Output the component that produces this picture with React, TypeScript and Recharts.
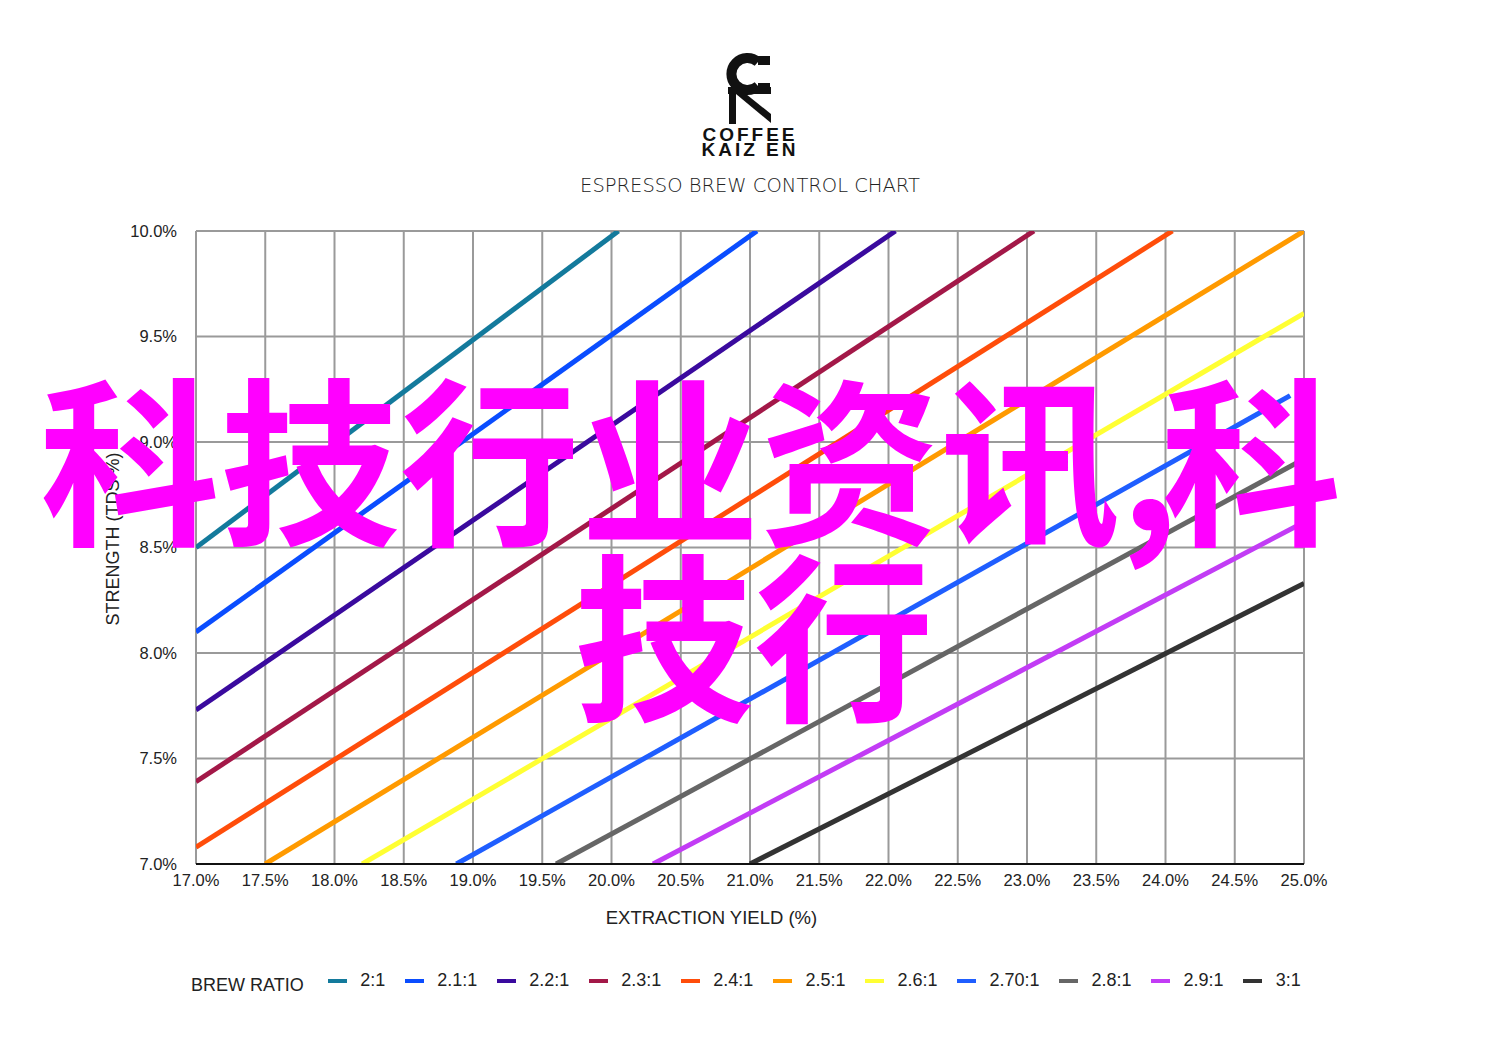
import { CartesianGrid, Line, LineChart, XAxis, YAxis } from "recharts";

const X_TICKS = [17, 17.5, 18, 18.5, 19, 19.5, 20, 20.5, 21, 21.5, 22, 22.5, 23, 23.5, 24, 24.5, 25];
const Y_TICKS = [7, 7.5, 8, 8.5, 9, 9.5, 10];

const RATIOS = ["2:1", "2.1:1", "2.2:1", "2.3:1", "2.4:1", "2.5:1", "2.6:1", "2.70:1", "2.8:1", "2.9:1", "3:1"];
const COLORS = ["#137a9c", "#0a4dff", "#3a0a9e", "#a31848", "#ff4d0a", "#ff9a00", "#ffff33", "#1f5eff", "#666666", "#c23cf5", "#333333"];

// endpoints
const START_X = [17, 17, 17, 17, 17, 17.5, 18.2, 18.88, 19.6, 20.3, 21.0];
const START_Y = [8.5, 8.1, 7.73, 7.39, 7.08, 7.0, 7.0, 7.0, 7.0, 7.0, 7.0];
const END_X = [20.05, 21.05, 22.05, 23.05, 24.05, 25, 25, 24.9, 25, 25, 25];
const END_Y = [10, 10, 10, 10, 10, 10, 9.61, 9.22, 8.92, 8.62, 8.33];

const series = RATIOS.map((name, i) => ({
  name,
  color: COLORS[i],
  data: [
    { x: START_X[i], y: START_Y[i] },
    { x: END_X[i], y: END_Y[i] },
  ],
}));

const FONT = "'Liberation Sans', Arial, sans-serif";
const CJK = "'Noto Sans CJK SC', sans-serif";

function BrewLegend() {
  return (
    <div
      style={{
        position: "absolute",
        left: 191,
        top: 970,
        display: "flex",
        alignItems: "center",
        fontFamily: FONT,
        fontSize: 18,
        color: "#222",
      }}
    >
      <span style={{ marginRight: 24, position: "relative", top: 5 }}>BREW RATIO</span>
      {series.map((s) => (
        <span key={s.name} style={{ display: "flex", alignItems: "center", marginRight: 19.5 }}>
          <span style={{ width: 19, height: 4, background: s.color, marginRight: 13.5 }} />
          {s.name}
        </span>
      ))}
    </div>
  );
}

function Logo() {
  return (
    <svg width={60} height={80} viewBox="0 0 60 80" style={{ position: "absolute", left: 720, top: 50 }}>
      <path d="M38 12 A16 16 0 1 0 38 36" fill="none" stroke="#111" strokeWidth={10} />
      <rect x={38} y={6} width={12} height={9} fill="#111" />
      <rect x={38} y={33} width={12} height={9} fill="#111" />
      <rect x={8} y={37} width={43} height={7} fill="#111" />
      <rect x={9} y={40} width={7} height={34} fill="#111" />
      <polygon points="16,44 26,44 51,64 51,73" fill="#111" />
    </svg>
  );
}

export default function App() {
  return (
    <div style={{ position: "absolute", left: 0, top: 0, width: 1500, height: 1060, background: "#fff" }}>
      <Logo />
      <div
        style={{
          position: "absolute",
          left: 0,
          width: 1500,
          top: 127,
          textAlign: "center",
          fontFamily: FONT,
          fontWeight: 700,
          fontSize: 19,
          letterSpacing: 3,
          lineHeight: "15px",
          color: "#111",
        }}
      >
        <div>COFFEE</div>
        <div>KAIZ EN</div>
      </div>
      <div
        style={{
          position: "absolute",
          left: 0,
          width: 1500,
          top: 174,
          textAlign: "center",
          fontFamily: "'DejaVu Sans', sans-serif",
          fontWeight: 300,
          fontSize: 19.5,
          color: "#222",
        }}
      >
        ESPRESSO BREW CONTROL CHART
      </div>

      <LineChart width={1500} height={1060} margin={{ top: 231, right: 196, bottom: 166, left: 116 }}>
        <CartesianGrid stroke="#9a9a9a" strokeWidth={2} />
        <XAxis
          dataKey="x"
          type="number"
          domain={[17, 25]}
          ticks={X_TICKS}
          tickFormatter={(v) => `${v.toFixed(1)}%`}
          axisLine={{ stroke: "#111", strokeWidth: 2 }}
          tickLine={false}
          tick={{ fill: "#222", fontSize: 16.5, fontFamily: FONT }}
          tickMargin={4}
          height={30}
          allowDataOverflow
        />
        <YAxis
          dataKey="y"
          type="number"
          domain={[7, 10]}
          ticks={Y_TICKS}
          tickFormatter={(v) => `${v.toFixed(1)}%`}
          axisLine={false}
          tickLine={false}
          tick={{ fill: "#222", fontSize: 16.5, fontFamily: FONT }}
          tickMargin={13}
          width={80}
          allowDataOverflow
        />
        {series.map((s) => (
          <Line
            key={s.name}
            data={s.data}
            dataKey="y"
            name={s.name}
            stroke={s.color}
            strokeWidth={5}
            dot={false}
            activeDot={false}
            isAnimationActive={false}
          />
        ))}
      </LineChart>

      <BrewLegend />

      <div
        style={{
          position: "absolute",
          left: 0,
          width: 1423,
          top: 907,
          textAlign: "center",
          fontFamily: FONT,
          fontSize: 18.5,
          color: "#222",
        }}
      >
        EXTRACTION YIELD (%)
      </div>
      <div
        style={{
          position: "absolute",
          left: 113,
          top: 539,
          transform: "translate(-50%, -50%) rotate(-90deg)",
          whiteSpace: "nowrap",
          fontFamily: FONT,
          fontSize: 18,
          color: "#222",
        }}
      >
        STRENGTH (TDS %)
      </div>

      <div
        style={{
          position: "absolute",
          left: 40,
          top: 363,
          fontFamily: CJK,
          fontWeight: 700,
          fontSize: 180,
          lineHeight: 1,
          color: "#ff00ff",
          whiteSpace: "nowrap",
        }}
      >
        科技行业资讯<span style={{ marginRight: -17 }}>,</span>科
      </div>
      <div
        style={{
          position: "absolute",
          left: 574,
          top: 539,
          fontFamily: CJK,
          fontWeight: 700,
          fontSize: 180,
          lineHeight: 1,
          color: "#ff00ff",
          whiteSpace: "nowrap",
        }}
      >
        技行
      </div>
    </div>
  );
}
